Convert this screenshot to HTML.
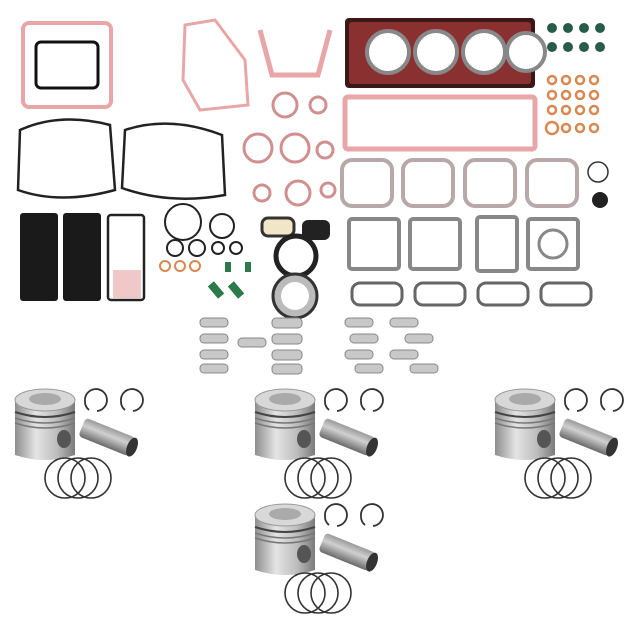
<!DOCTYPE html>
<html><head><meta charset="utf-8"><style>html,body{margin:0;padding:0;background:#fff}svg{display:block}</style></head>
<body>
<svg width="630" height="630" viewBox="0 0 630 630" xmlns="http://www.w3.org/2000/svg">
<defs>
<linearGradient id="met" x1="0" x2="1" y1="0" y2="0">
<stop offset="0" stop-color="#8e8e8e"/><stop offset="0.35" stop-color="#e4e4e4"/><stop offset="0.7" stop-color="#bdbdbd"/><stop offset="1" stop-color="#7a7a7a"/></linearGradient>
<linearGradient id="pin" x1="0" x2="0" y1="0" y2="1">
<stop offset="0" stop-color="#9a9a9a"/><stop offset="0.4" stop-color="#d0d0d0"/><stop offset="1" stop-color="#6a6a6a"/></linearGradient>
<g id="pist">
<path d="M0 15 L0 70 Q30 80 60 70 L60 15 Z" fill="url(#met)"/>
<ellipse cx="30" cy="15" rx="30" ry="11" fill="#d8d8d8" stroke="#999"/>
<ellipse cx="30" cy="14" rx="16" ry="6" fill="#aaa"/>
<path d="M0 27 Q30 37 60 27" stroke="#444" stroke-width="2" fill="none"/>
<path d="M0 33 Q30 43 60 33" stroke="#777" stroke-width="1.5" fill="none"/>
<path d="M0 38 Q30 48 60 38" stroke="#777" stroke-width="1.5" fill="none"/>
<ellipse cx="49" cy="54" rx="7" ry="9" fill="#555"/>
<path d="M70 16 a11 11 0 1 1 12 10 M70 16 a11 11 0 0 0 4 9" stroke="#333" stroke-width="1.8" fill="none"/>
<path d="M106 16 a11 11 0 1 1 12 10 M106 16 a11 11 0 0 0 4 9" stroke="#333" stroke-width="1.8" fill="none"/>
<g transform="translate(92 52) rotate(22)">
<rect x="-27" y="-10" width="54" height="20" rx="4" fill="url(#pin)"/>
<ellipse cx="27" cy="0" rx="5" ry="10" fill="#333"/>
</g>
<circle cx="50" cy="93" r="20" fill="none" stroke="#333" stroke-width="1.6"/>
<circle cx="63" cy="93" r="20" fill="none" stroke="#333" stroke-width="1.6"/>
<circle cx="76" cy="93" r="20" fill="none" stroke="#333" stroke-width="1.6"/>
</g>
</defs>
<rect width="630" height="630" fill="#fff"/>
<!-- oil pan gasket -->
<rect x="23" y="23" width="88" height="84" rx="6" fill="none" stroke="#e8a6a8" stroke-width="4"/>
<rect x="36" y="42" width="62" height="46" rx="5" fill="none" stroke="#111" stroke-width="3"/>
<!-- timing gasket -->
<path d="M185 25 L215 20 L245 60 L248 105 L200 110 L183 80 Z" fill="none" stroke="#e8a6a8" stroke-width="3"/>
<path d="M260 30 L272 75 L318 75 L330 30" fill="none" stroke="#e8a6a8" stroke-width="5"/>
<!-- head gasket -->
<rect x="345" y="18" width="190" height="70" rx="4" fill="#3a1818"/>
<rect x="349" y="22" width="182" height="62" rx="3" fill="#8a3030"/>
<g fill="#fff" stroke="#888" stroke-width="4">
<circle cx="388" cy="52" r="21"/><circle cx="436" cy="52" r="21"/><circle cx="484" cy="52" r="21"/><circle cx="526" cy="52" r="19"/></g>
<!-- valve seals -->
<g fill="#2a5a4a"><circle cx="552" cy="28" r="5"/><circle cx="568" cy="28" r="5"/><circle cx="584" cy="28" r="5"/><circle cx="600" cy="28" r="5"/>
<circle cx="552" cy="47" r="5"/><circle cx="568" cy="47" r="5"/><circle cx="584" cy="47" r="5"/><circle cx="600" cy="47" r="5"/></g>
<g fill="none" stroke="#d88850" stroke-width="2.5">
<circle cx="552" cy="80" r="4"/><circle cx="566" cy="80" r="4"/><circle cx="580" cy="80" r="4"/><circle cx="594" cy="80" r="4"/>
<circle cx="552" cy="95" r="4"/><circle cx="566" cy="95" r="4"/><circle cx="580" cy="95" r="4"/><circle cx="594" cy="95" r="4"/>
<circle cx="552" cy="110" r="4"/><circle cx="566" cy="110" r="4"/><circle cx="580" cy="110" r="4"/><circle cx="594" cy="110" r="4"/>
<circle cx="552" cy="128" r="6"/><circle cx="566" cy="128" r="4"/><circle cx="580" cy="128" r="4"/><circle cx="594" cy="128" r="4"/></g>
<!-- rocker gasket -->
<rect x="345" y="97" width="190" height="52" rx="3" fill="none" stroke="#e8a6a8" stroke-width="5"/>
<!-- black outline gaskets -->
<path d="M20 130 Q60 112 110 125 L115 190 Q60 205 18 190 Z" fill="none" stroke="#222" stroke-width="2.5"/>
<path d="M125 130 Q170 115 222 135 L225 195 Q170 205 122 188 Z" fill="none" stroke="#222" stroke-width="2.5"/>
<!-- small pink gaskets -->
<g fill="none" stroke="#d09090" stroke-width="3">
<circle cx="285" cy="105" r="12"/><circle cx="318" cy="105" r="8"/>
<circle cx="258" cy="148" r="14"/><circle cx="295" cy="148" r="14"/><circle cx="325" cy="150" r="8"/>
<circle cx="262" cy="193" r="8"/><circle cx="298" cy="193" r="12"/><circle cx="328" cy="190" r="7"/></g>
<!-- valve cover gaskets -->
<g fill="none" stroke="#b8a8a8" stroke-width="4">
<rect x="342" y="160" width="50" height="46" rx="10"/><rect x="403" y="160" width="50" height="46" rx="10"/>
<rect x="465" y="160" width="50" height="46" rx="10"/><rect x="527" y="160" width="50" height="46" rx="10"/></g>
<circle cx="598" cy="172" r="10" fill="none" stroke="#333" stroke-width="1.5"/>
<circle cx="600" cy="200" r="8" fill="#222"/>
<!-- black plates -->
<rect x="20" y="213" width="38" height="88" rx="3" fill="#1a1a1a"/>
<rect x="63" y="213" width="38" height="88" rx="3" fill="#1a1a1a"/>
<rect x="108" y="215" width="36" height="85" rx="3" fill="none" stroke="#222" stroke-width="2.5"/>
<rect x="113" y="270" width="28" height="28" fill="#f0c8c8"/>
<!-- o-rings -->
<g fill="none" stroke="#222" stroke-width="2">
<circle cx="183" cy="222" r="18"/><circle cx="222" cy="226" r="12"/>
<circle cx="175" cy="248" r="8"/><circle cx="197" cy="248" r="8"/><circle cx="218" cy="248" r="6"/><circle cx="236" cy="248" r="6"/></g>
<g fill="none" stroke="#d88850" stroke-width="2"><circle cx="165" cy="266" r="5"/><circle cx="180" cy="266" r="5"/><circle cx="195" cy="266" r="5"/></g>
<g fill="#2a7a4a"><rect x="212" y="282" width="8" height="16" transform="rotate(-40 216 290)"/><rect x="232" y="282" width="8" height="16" transform="rotate(-40 236 290)"/><rect x="225" y="262" width="6" height="10"/><rect x="245" y="262" width="6" height="10"/></g>
<rect x="262" y="218" width="32" height="18" rx="6" fill="#f2e6c8" stroke="#333" stroke-width="3"/>
<circle cx="296" cy="256" r="20" fill="none" stroke="#222" stroke-width="5"/>
<rect x="302" y="220" width="28" height="20" rx="6" fill="#222"/>
<circle cx="295" cy="296" r="22" fill="#bbb" stroke="#333" stroke-width="3"/>
<circle cx="295" cy="296" r="14" fill="#fff"/>
<!-- exhaust gaskets -->
<g fill="none" stroke="#888" stroke-width="4">
<rect x="349" y="219" width="50" height="50" rx="3"/><rect x="410" y="219" width="50" height="50" rx="3"/>
<rect x="477" y="217" width="40" height="54" rx="3"/><rect x="528" y="219" width="50" height="50" rx="3"/></g>
<circle cx="553" cy="244" r="14" fill="none" stroke="#888" stroke-width="3"/>
<g fill="none" stroke="#666" stroke-width="3">
<rect x="352" y="283" width="50" height="22" rx="8"/><rect x="415" y="283" width="50" height="22" rx="8"/>
<rect x="478" y="283" width="50" height="22" rx="8"/><rect x="541" y="283" width="50" height="22" rx="8"/></g>
<!-- bearings -->
<g fill="#c8c8c8" stroke="#888">
<rect x="200" y="318" width="28" height="9" rx="4"/><rect x="200" y="334" width="28" height="9" rx="4"/><rect x="200" y="350" width="28" height="9" rx="4"/><rect x="200" y="364" width="28" height="9" rx="4"/>
<rect x="238" y="338" width="28" height="9" rx="4"/>
<rect x="272" y="318" width="30" height="10" rx="4"/><rect x="272" y="334" width="30" height="10" rx="4"/><rect x="272" y="350" width="30" height="10" rx="4"/><rect x="272" y="364" width="30" height="10" rx="4"/>
<rect x="345" y="318" width="28" height="9" rx="4"/><rect x="390" y="318" width="28" height="9" rx="4"/>
<rect x="350" y="334" width="28" height="9" rx="4"/><rect x="405" y="334" width="28" height="9" rx="4"/>
<rect x="345" y="350" width="28" height="9" rx="4"/><rect x="390" y="350" width="28" height="9" rx="4"/>
<rect x="355" y="364" width="28" height="9" rx="4"/><rect x="410" y="364" width="28" height="9" rx="4"/></g>
<!-- pistons -->
<use href="#pist" transform="translate(15 385)"/>
<use href="#pist" transform="translate(255 385)"/>
<use href="#pist" transform="translate(495 385)"/>
<use href="#pist" transform="translate(255 500)"/>
</svg>
</body></html>
